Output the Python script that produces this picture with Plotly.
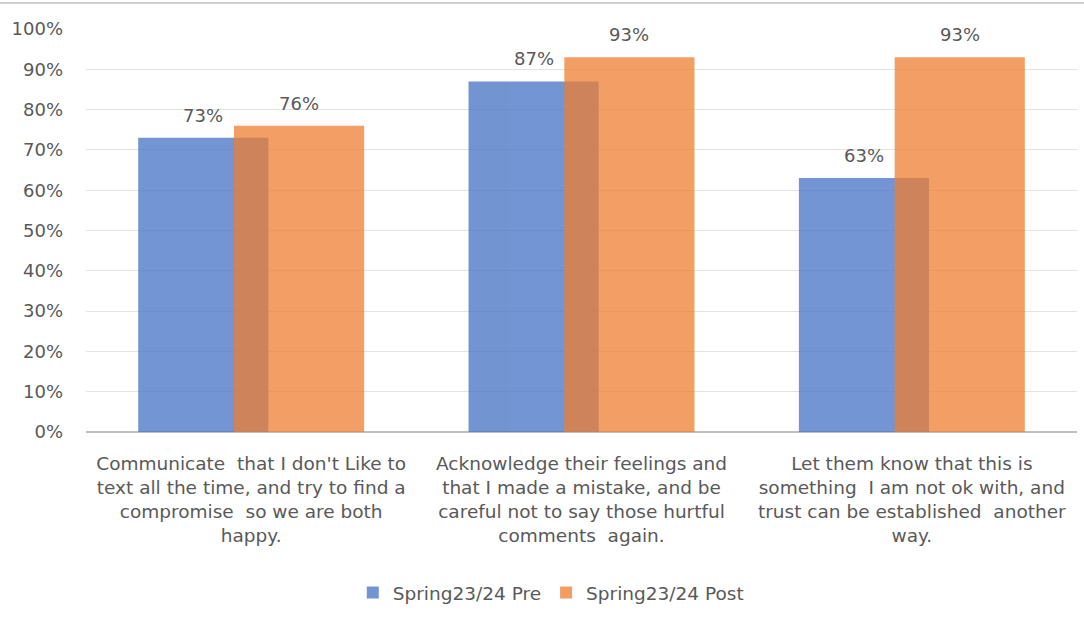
import plotly.graph_objects as go

# Survey responses: share of students choosing each healthy response
categories = [
    "Communicate  that I don't Like to<br>text all the time, and try to find a<br>compromise  so we are both<br>happy.",
    "Acknowledge their feelings and<br>that I made a mistake, and be<br>careful not to say those hurtful<br>comments  again.",
    "Let them know that this is<br>something  I am not ok with, and<br>trust can be established  another<br>way.",
]
pre_values = [0.73, 0.87, 0.63]
post_values = [0.76, 0.93, 0.93]
series_names = ["Spring23/24 Pre", "Spring23/24 Post"]
y_ticks = [i / 10 for i in range(11)]
y_tick_labels = [f"{int(round(t * 100))}%" for t in y_ticks]

FONT = "'DejaVu Sans', 'Open Sans', sans-serif"
TEXT_COLOR = "#595959"
BLUE = "#4472C4"
ORANGE = "#ED7D31"

BAR_W = 0.394
PRE_OFF = -0.342
POST_OFF = -0.052

x_pos = list(range(len(categories)))

fig = go.Figure()
fig.add_trace(go.Bar(
    x=x_pos, y=pre_values, name=series_names[0],
    marker=dict(color=BLUE, line=dict(width=0)), opacity=0.75,
    width=BAR_W, offset=PRE_OFF, hoverinfo="skip",
))
fig.add_trace(go.Bar(
    x=x_pos, y=post_values, name=series_names[1],
    marker=dict(color=ORANGE, line=dict(width=0)), opacity=0.75,
    width=BAR_W, offset=POST_OFF, hoverinfo="skip",
))

# Value labels above each bar
for vals, off in ((pre_values, PRE_OFF), (post_values, POST_OFF)):
    for i, v in enumerate(vals):
        fig.add_annotation(
            x=i + off + BAR_W / 2, y=v, xref="x", yref="y",
            text=f"{int(round(v * 100))}%", showarrow=False,
            yanchor="bottom", yshift=10,
            font=dict(family=FONT, size=18, color=TEXT_COLOR),
        )

# Thin rule along the top edge of the canvas
fig.add_shape(
    type="line", xref="paper", yref="paper",
    x0=-86 / 991, x1=(1084 - 86) / 991,
    y0=(432 - 3) / 403, y1=(432 - 3) / 403,
    line=dict(color="#D0D0D0", width=2),
)

fig.update_layout(
    width=1084, height=627,
    margin=dict(l=86, r=7, t=29, b=195),
    paper_bgcolor="white", plot_bgcolor="white",
    barmode="overlay",
    font=dict(family=FONT, color=TEXT_COLOR),
    showlegend=True,
    legend=dict(
        orientation="h", x=0.469, xanchor="center",
        y=(432 - 593) / 403, yanchor="middle",
        font=dict(family=FONT, size=18.5, color=TEXT_COLOR),
        itemwidth=30, traceorder="normal",
    ),
    xaxis=dict(
        range=[-0.5, 2.5], tickmode="array", tickvals=x_pos, ticktext=categories,
        showgrid=False, zeroline=False, showline=False,
        tickfont=dict(family=FONT, size=18.5, color=TEXT_COLOR),
        ticks="", ticklabelstandoff=18,
    ),
    yaxis=dict(
        range=[0, 1], tickmode="array", tickvals=y_ticks, ticktext=y_tick_labels,
        showgrid=True, gridcolor="#E3E3E3", gridwidth=1,
        zeroline=True, zerolinecolor="#BFBFBF", zerolinewidth=2,
        showline=False, ticks="", ticklabelstandoff=22,
        tickfont=dict(family=FONT, size=18, color=TEXT_COLOR),
    ),
)

fig.write_html("out.html")
